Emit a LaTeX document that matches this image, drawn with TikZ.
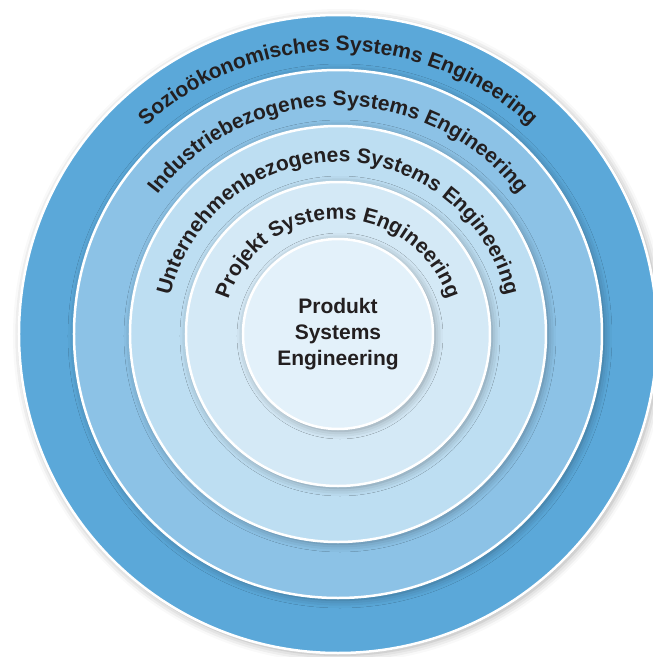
\documentclass[tikz,border=0pt]{standalone}
\usepackage{fontspec}
\setmainfont{Liberation Sans}
\usepackage{tikz}
\usetikzlibrary{shapes,decorations.text,shadows.blur}
\definecolor{socioblue}{RGB}{91, 168, 217}
\definecolor{industrieblue}{RGB}{140, 194, 230}
\definecolor{unternehmenblue}{RGB}{189, 222, 242}
\definecolor{projektblue}{RGB}{212, 233, 246}
\definecolor{produktblue}{RGB}{227, 241, 250}
\definecolor{txt}{RGB}{35, 31, 32}
\tikzstyle{ring} = [circle, draw=white, line width=2.5pt, inner sep=0pt, blur shadow={shadow xshift=2pt, shadow yshift=-2pt, shadow blur radius=8pt, shadow opacity=35}]
\tikzstyle{core} = [ring, text=txt, align=center, font=\bfseries\fontsize{21}{26}\selectfont]
\tikzstyle{arctext} = [decorate, decoration={text along path, text align=center, text color=txt}]

\begin{document}
\begin{tikzpicture}[x=1pt, y=1pt]

\useasboundingbox (-338,-323) rectangle (315,334);
\clip (-338,-323) rectangle (315,334);

% rings =============================
\coordinate (mid) at (0,0);
\node[ring, fill=socioblue, minimum size=638pt] (socio) at (mid) {};
\node[ring, fill=industrieblue, minimum size=528pt] (industrie) at (mid) {};
\node[ring, fill=unternehmenblue, minimum size=416pt] (unternehmen) at (mid) {};
\node[ring, fill=projektblue, minimum size=304pt] (projekt) at (mid) {};
\node[core, fill=produktblue, minimum size=190pt] (produkt) at (mid) {Produkt\\Systems\\Engineering};

% ring labels
\path[arctext, decoration={text={|\bfseries\fontsize{21}{26}\selectfont|Sozioökonomisches Systems Engineering}}]
  (mid) ++(180:283) arc[start angle=180, end angle=0, radius=283];
\path[arctext, decoration={text={|\bfseries\fontsize{21}{26}\selectfont|Industriebezogenes Systems Engineering}}]
  (mid) ++(180:228) arc[start angle=180, end angle=0, radius=228];
\path[arctext, decoration={text={|\bfseries\fontsize{21}{26}\selectfont|Unternehmenbezogenes Systems Engineering}}]
  (mid) ++(180:172) arc[start angle=180, end angle=0, radius=172];
\path[arctext, decoration={text={|\bfseries\fontsize{21}{26}\selectfont|Projekt Systems Engineering}}]
  (mid) ++(180:115) arc[start angle=180, end angle=0, radius=115];

\end{tikzpicture}
\end{document}
